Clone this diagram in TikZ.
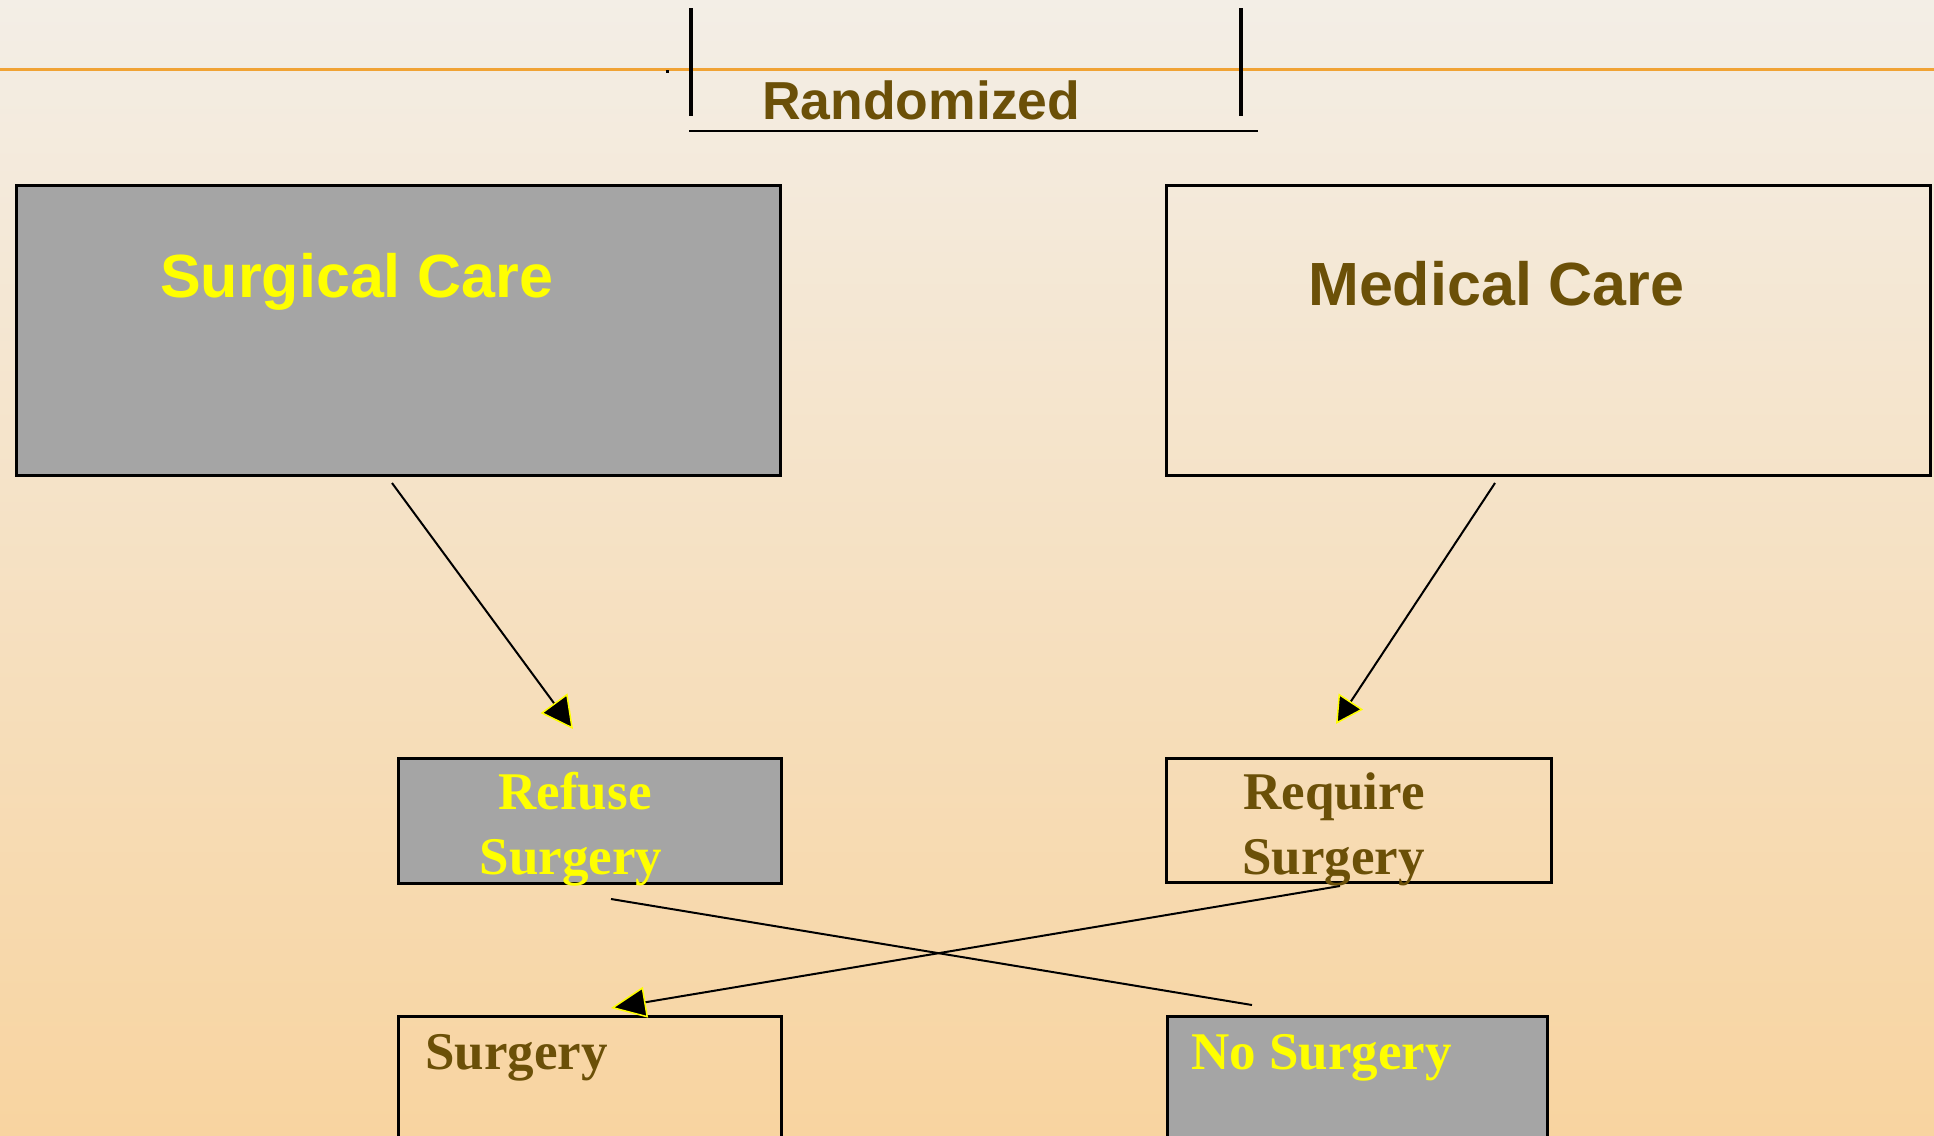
\documentclass[tikz,border=0pt]{standalone}
\usepackage{fontspec}
\setmainfont{Liberation Serif}
\setsansfont{Liberation Sans}
\usetikzlibrary{arrows.meta}

\definecolor{bgtop}{RGB}{243,238,230}
\definecolor{bgbot}{RGB}{248,212,160}
\definecolor{rulecol}{RGB}{240,163,52}
\definecolor{boxgray}{RGB}{165,165,165}
\definecolor{darkbrown}{RGB}{107,80,8}
\definecolor{hiyellow}{RGB}{255,255,0}

\tikzset{
  flowbox/.style={draw=black, line width=3pt, anchor=north west, inner sep=0pt, outer sep=0pt},
  graybox/.style={flowbox, fill=boxgray},
  clearbox/.style={flowbox},
  bigsans/.style={inner sep=0pt, anchor=base west, font={\sffamily\bfseries\fontsize{61pt}{73pt}\selectfont}},
  midserif/.style={inner sep=0pt, font={\rmfamily\bfseries\fontsize{53pt}{65pt}\selectfont}},
  conn/.style={draw=black, line width=2pt},
  tipped/.style 2 args={conn, -{Triangle[length=#1pt, width=#2pt, fill=black, color=hiyellow, line width=1.5pt]}},
}

\begin{document}
\begin{tikzpicture}[x=1pt, y=-1pt]
  % page frame and background
  \useasboundingbox (0,0) rectangle (1934,1135);
  \clip (0,0) rectangle (1934,1135);
  \shade[top color=bgtop, bottom color=bgbot] (0,0) rectangle (1934,1135);

  % header rule and bracket
  \draw[rulecol, line width=3pt] (0,69) -- (1934,69);
  \fill[black] (665.5,69.5) rectangle (668.5,72.5);
  \draw[line width=3.5pt] (691,8) -- (691,116);
  \draw[line width=3.5pt] (1241,8) -- (1241,116);
  \draw[line width=2.7pt] (689,131) -- (1258,131);
  \node[inner sep=0pt, anchor=base west, text=darkbrown,
        font={\sffamily\bfseries\fontsize{53.5pt}{64pt}\selectfont}] (rand) at (762,119) {Randomized};

  % treatment arms
  \node[graybox, minimum width=764pt, minimum height=290pt] (surg) at (16.5,185.5) {};
  \node[clearbox, minimum width=764pt, minimum height=290pt] (med) at (1166.5,185.5) {};
  \node[bigsans, text=hiyellow] (surgtxt) at (160,297) {Surgical Care};
  \node[bigsans, text=darkbrown] (medtxt) at (1308,305) {Medical Care};

  % crossover boxes
  \node[graybox, minimum width=383pt, minimum height=125pt] (refuse) at (398.5,758.5) {};
  \node[clearbox, minimum width=385pt, minimum height=124pt] (require) at (1166.5,758.5) {};
  \node[midserif, anchor=base, text=hiyellow] (refuse1) at (575,809) {Refuse};
  \node[midserif, anchor=base, text=hiyellow] (refuse2) at (571,874) {Surgery};
  \node[midserif, anchor=base west, text=darkbrown] (require1) at (1243,809) {Require};
  \node[midserif, anchor=base west, text=darkbrown] (require2) at (1242,874) {Surgery};

  % outcome boxes
  \node[clearbox, minimum width=383pt, minimum height=200pt] (surgout) at (398.5,1016.5) {};
  \node[graybox, minimum width=380pt, minimum height=200pt] (nosurg) at (1167.5,1016.5) {};
  \node[midserif, anchor=base west, text=darkbrown] (surgouttxt) at (425,1069) {Surgery};
  \node[midserif, anchor=base west, text=hiyellow] (nosurgtxt) at (1191,1069) {No Surgery};

  % connector end points
  \coordinate (surgA) at (392,483);
  \coordinate (refuseIn) at (573,729);
  \coordinate (medA) at (1495,483);
  \coordinate (requireIn) at (1336,724);
  \coordinate (requireOut) at (1340,886);
  \coordinate (surgoutIn) at (611,1008);
  \coordinate (refuseOut) at (611,899);
  \coordinate (nosurgIn) at (1252,1005);

  % connectors
  \draw[tipped={32}{33}] (surgA) -- (refuseIn);
  \draw[tipped={27}{29}] (medA) -- (requireIn);
  \draw[tipped={35}{31}] (requireOut) -- (surgoutIn);
  \draw[conn] (refuseOut) -- (nosurgIn);
\end{tikzpicture}
\end{document}
